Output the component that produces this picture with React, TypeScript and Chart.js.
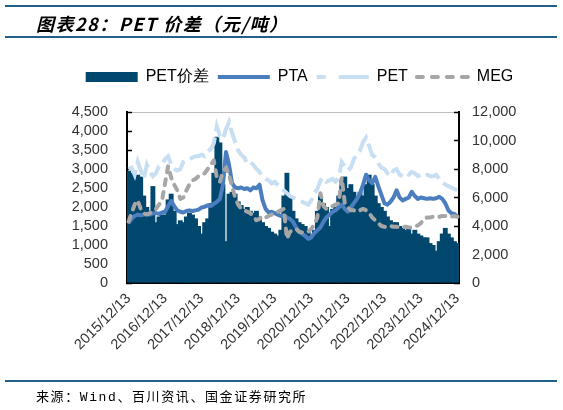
import React, { useEffect, useRef } from 'react';
import { Chart, registerables } from 'chart.js';

Chart.register(...registerables);

// ---------- data (monthly, 2015/12 – 2024/12) ----------
const categories: string[] = [];
for (let y = 2015, m = 12; categories.length < 109; ) {
  categories.push(`${y}/${m}/13`);
  m += 1;
  if (m > 12) { m = 1; y += 1; }
}

// PET价差 (left axis, 元/吨)
const spread = [
  2950, 2900, 2750, 2850, 2800, 2300, 2000, 1900, 2550, 1600, 1750, 1800,
  1800, 2200, 2350, 1900, 1550, 1650, 1600, 1750, 1850, 1800, 1700, 1500,
  1300, 1600, 1700, 2100, 2900, 3850, 3700, 2600, 1100, 2350, 2400, 2350,
  2150, 2050, 1950, 2000, 1900, 1850, 1900, 1750, 1600, 1500, 1450, 1350,
  1300, 1250, 1400, 2300, 2900, 2300, 1900, 1700, 1600, 1550, 1500, 1400,
  1200, 1400, 1900, 2300, 2100, 2000, 1500, 1950, 2000, 2300, 2700, 2800,
  2500, 2600, 2400, 2200, 2400, 2300, 2600, 2850, 2600, 2300, 2100, 2000,
  1900, 1750, 1650, 1600, 1600, 1500, 1450, 1400, 1450, 1300, 1400, 1300,
  1250, 1200, 1200, 1050, 1000, 850, 1100, 1300, 1450, 1300, 1200, 1100,
  1050,
];

// PTA (right axis)
const pta = [
  4200, 4500, 4700, 4800, 4750, 4800, 4850, 4800, 4900, 4900, 4850, 4950,
  5000, 5400, 5750, 5400, 5100, 5000, 4950, 5050, 5100, 5050, 5100, 5150,
  5300, 5350, 5450, 5400, 5550, 5700, 5900, 6900, 9200, 8300, 7000, 6700,
  6650, 6700, 6600, 6650, 6500, 6700, 6650, 6900, 5800, 5200, 4950, 5000,
  4900, 4800, 4700, 4750, 4600, 4500, 4300, 3900, 3600, 3450, 3300, 3100,
  3200, 3500, 3700, 3900, 4300, 4600, 4800, 5000, 5100, 5300, 5500, 5200,
  5000, 5300, 5600, 5900, 6300, 6900, 7600, 7200, 7000, 7450, 6800, 6200,
  5600, 5500, 5700, 6000, 6500, 6000, 5800, 5900, 6000, 6400, 6100, 5900,
  6000, 5950, 5900, 5950, 5900, 5950, 6050, 5900, 5600, 5100, 4900, 4850,
  4650,
];

// PET (right axis)
const pet = [
  8000, 8100, 7600, 8500, 7900, 7300, 8300, 7800, 7500, 7700, 8200, 8300,
  8700, 8900, 8300, 8000, 7900, 8000, 8500, 8600, 8700, 8800, 8900, 8900,
  9000, 8900, 9200, 9400, 9800, 11000, 10300, 10100, 10800, 11300, 10500, 9900,
  9300, 9000, 8800, 8400, 8500, 8300, 8000, 7800, 7500, 7300, 7200, 7000,
  7100, 6900, 6700, 6500, 6300, 6100, 6000, 5900, 5800, 5700, 5600, 5500,
  5800, 6300, 6600, 7200, 7400, 7100, 7200, 7300, 7100, 7400, 8500, 8200,
  7900, 8100, 8700, 9000, 9300, 9900, 10200, 9600, 9000, 8800, 8400, 8100,
  8000, 7700, 7500, 7900, 8000, 7600, 7500, 7700, 7600, 7800, 7700, 7500,
  7600, 7500, 7600, 7500, 7500, 7600, 7300, 7100, 6900, 6800, 6700, 6600,
  6500,
];

// MEG (right axis)
const meg = [
  4300, 4900, 5500, 5800, 5200, 4900, 4800, 4900, 5000, 5200, 5500, 5800,
  7000, 8200, 7400, 6900, 6500, 5900, 6000, 6500, 6900, 7200, 7300, 7500,
  7600, 7700, 8000, 8300, 8600, 7400, 7100, 7800, 8100, 7600, 6800, 6000,
  5500, 5200, 5100, 5000, 4900, 4700, 4400, 4500, 4700, 4600, 4700, 4800,
  4900, 5000, 5100, 5200, 3100, 3600, 3700, 3800, 3600, 3550, 3600, 3600,
  3800, 4100, 4600, 6300, 5400, 5200, 5300, 5400, 5500, 5600, 7400, 5600,
  5300, 5100, 5100, 5000, 5100, 5200, 5100, 4900, 4600, 4400, 4200, 4000,
  3950, 3900, 4000, 3950, 3950, 3900, 3900, 3950, 3900, 3900, 3950, 4050,
  4200, 4500, 4600, 4600, 4650, 4700, 4650, 4700, 4700, 4700, 4650, 4700,
  4650,
];

const seriesNames = ['PET价差', 'PTA', 'PET', 'MEG'];
const leftTicks = { min: 0, max: 4500, step: 500 };
const rightTicks = { min: 0, max: 12000, step: 2000 };

// ---------- styles ----------
const NAVY = '#02476e';
const PTA_C = '#4a7ebf';
const PET_C = '#c8def2';
const MEG_C = '#a6a6a6';
const RULE = '#1f5f8a';
const FONT = '"Liberation Sans", Arial, sans-serif';
const LEGEND_GAP = 17;
const LEGEND_SHIFT = 18;

const legendTweak = {
  id: 'legendTweak',
  beforeLayout(chart: any) {
    const lg = chart.legend;
    if (lg && !lg.__tweak) {
      const origFit = lg.fit;
      lg.fit = function () {
        origFit.call(this);
        this.height += LEGEND_GAP;
      };
      const origDraw = lg.draw;
      lg.draw = function () {
        const c = this.ctx;
        c.save();
        c.translate(LEGEND_SHIFT, 0);
        origDraw.call(this);
        c.restore();
      };
      lg.__tweak = true;
    }
  },
};

const fmt = (v: number) => Number(v).toLocaleString('en-US');

export default function App() {
  const ref = useRef<HTMLCanvasElement | null>(null);

  useEffect(() => {
    if (!ref.current) return;
    const chart = new Chart(ref.current, {
      data: {
        labels: categories,
        datasets: [
          {
            type: 'bar',
            label: seriesNames[0],
            data: spread,
            yAxisID: 'y',
            backgroundColor: NAVY,
            borderWidth: 0,
            barPercentage: 1.6,
            categoryPercentage: 1,
            order: 3,
          },
          {
            type: 'line',
            label: seriesNames[1],
            data: pta,
            yAxisID: 'y1',
            borderColor: PTA_C,
            borderWidth: 4,
            pointRadius: 0,
            tension: 0,
            borderJoinStyle: 'round',
            order: 2,
          },
          {
            type: 'line',
            label: seriesNames[2],
            data: pet,
            yAxisID: 'y1',
            borderColor: PET_C,
            borderWidth: 4,
            borderDash: [16, 6],
            pointRadius: 0,
            tension: 0,
            order: 1,
          },
          {
            type: 'line',
            label: seriesNames[3],
            data: meg,
            yAxisID: 'y1',
            borderColor: MEG_C,
            borderWidth: 4,
            borderDash: [6, 7],
            borderCapStyle: 'round',
            borderJoinStyle: 'round',
            pointRadius: 0,
            tension: 0,
            order: 0,
          },
        ] as any,
      },
      options: {
        animation: false,
        responsive: false,
        maintainAspectRatio: false,
        layout: { padding: { top: 60, left: 0, right: 0, bottom: 0 } },
        plugins: {
          tooltip: { enabled: false },
          legend: {
            position: 'top',
            align: 'center',
            labels: {
              usePointStyle: true,
              pointStyleWidth: 52,
              boxWidth: 52,
              boxHeight: 10,
              padding: 9,
              color: '#111',
              font: { family: FONT, size: 16 },
              generateLabels: () => [
                { text: seriesNames[0], fillStyle: NAVY, strokeStyle: NAVY, lineWidth: 0, pointStyle: 'rect', hidden: false, datasetIndex: 0 },
                { text: seriesNames[1], fillStyle: PTA_C, strokeStyle: PTA_C, lineWidth: 4, pointStyle: 'line', lineCap: 'butt', hidden: false, datasetIndex: 1 },
                { text: seriesNames[2], fillStyle: PET_C, strokeStyle: PET_C, lineWidth: 4, pointStyle: 'line', lineDash: [30, 13], lineDashOffset: 21, hidden: false, datasetIndex: 2 },
                { text: seriesNames[3], fillStyle: MEG_C, strokeStyle: MEG_C, lineWidth: 4, pointStyle: 'line', lineDash: [6, 9], lineCap: 'round', hidden: false, datasetIndex: 3 },
              ] as any,
            },
          },
        },
        scales: {
          x: {
            type: 'category',
            offset: true,
            grid: {
              offset: false,
              drawOnChartArea: false,
              tickLength: -5,
              tickWidth: 1.5,
              tickColor: (ctx: any) => (ctx.index % 12 === 0 ? '#000' : 'rgba(0,0,0,0)'),
            },
            border: { display: true, color: '#000', width: 2 },
            ticks: {
              autoSkip: false,
              maxRotation: 45,
              minRotation: 45,
              padding: 12,
              color: '#333',
              font: { family: FONT, size: 14.5 },
              callback: function (this: any, v: any, i: number) {
                return i % 12 === 0 ? this.getLabelForValue(v) : '';
              },
            },
            afterFit: (s: any) => { s.height = 127; },
          },
          y: {
            position: 'left',
            min: leftTicks.min,
            max: leftTicks.max,
            ticks: {
              stepSize: leftTicks.step,
              autoSkip: false,
              padding: 24,
              color: '#333',
              font: { family: FONT, size: 14.5 },
              callback: (v: any) => fmt(v),
            },
            grid: {
              drawOnChartArea: true,
              color: (ctx: any) => (ctx.tick && ctx.tick.value === leftTicks.max ? '#bfbfbf' : 'rgba(0,0,0,0)'),
              lineWidth: 1,
              tickLength: -5,
              tickWidth: 1.5,
              tickColor: '#000',
            },
            border: { display: true, color: '#000', width: 2 },
            afterFit: (s: any) => { s.width = 127; },
          },
          y1: {
            position: 'right',
            min: rightTicks.min,
            max: rightTicks.max,
            ticks: {
              stepSize: rightTicks.step,
              autoSkip: false,
              padding: 18,
              color: '#333',
              font: { family: FONT, size: 14.5 },
              callback: (v: any) => fmt(v),
            },
            grid: {
              drawOnChartArea: false,
              tickLength: -5,
              tickWidth: 1.5,
              tickColor: '#000',
            },
            border: { display: true, color: '#000', width: 2 },
            afterFit: (s: any) => { s.width = 104; },
          },
        },
      } as any,
      plugins: [legendTweak],
    });
    return () => chart.destroy();
  }, []);

  return (
    <div style={{ position: 'absolute', left: 0, top: 0, width: 563, height: 410, background: '#fff', overflow: 'hidden' }}>
      <canvas ref={ref} width={563} height={410} style={{ position: 'absolute', left: 0, top: 0, width: 563, height: 410 }} />
      <div style={{ position: 'absolute', left: 5, top: 5, width: 552, height: 2, background: RULE }} />
      <div
        style={{
          position: 'absolute', left: 36, top: 12, whiteSpace: 'nowrap',
          fontFamily: '"Noto Sans CJK SC", sans-serif', fontWeight: 700, fontStyle: 'italic',
          fontSize: 18, lineHeight: '22px', letterSpacing: 1.5, color: '#000',
        }}
      >
        图表28：PET 价差（元/吨）
      </div>
      <div style={{ position: 'absolute', left: 5, top: 36, width: 552, height: 2, background: RULE }} />
      <div style={{ position: 'absolute', left: 5, top: 380, width: 552, height: 2, background: RULE }} />
      <div
        style={{
          position: 'absolute', left: 36, top: 390, whiteSpace: 'nowrap',
          fontFamily: '"Liberation Mono", "Noto Sans CJK SC", monospace',
          fontSize: 13, lineHeight: '16px', letterSpacing: 1.6, color: '#000',
        }}
      >
        来源：Wind、百川资讯、国金证券研究所
      </div>
    </div>
  );
}
